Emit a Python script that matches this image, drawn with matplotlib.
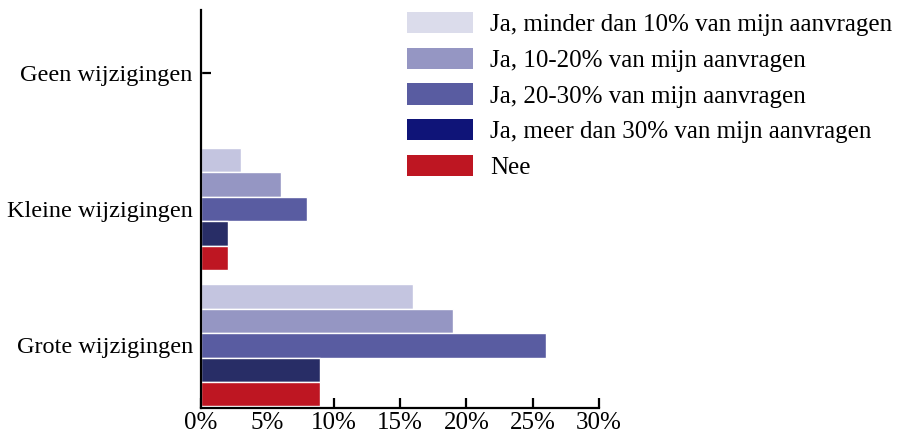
import matplotlib
matplotlib.use('Agg')
import matplotlib.pyplot as plt
from matplotlib.patches import Patch
import numpy as np

categories = ['Grote wijzigingen', 'Kleine wijzigingen', 'Geen wijzigingen']
series = ['Ja, minder dan 10% van mijn aanvragen',
          'Ja, 10-20% van mijn aanvragen',
          'Ja, 20-30% van mijn aanvragen',
          'Ja, meer dan 30% van mijn aanvragen',
          'Nee']
# values per series, in the order of categories (Grote, Kleine, Geen)
minder_10 = [16, 3, 0]
tien_20 = [19, 6, 0]
twintig_30 = [26, 8, 0]
meer_30 = [9, 2, 0]
nee = [9, 2, 0]
values = [minder_10, tien_20, twintig_30, meer_30, nee]

bar_colors = ['#c4c5e0', '#9596c3', '#595ca1', '#282d66', '#be1622']
legend_colors = ['#dbdceb', '#9596c3', '#595ca1', '#0f1478', '#be1622']

plt.rcParams['font.family'] = ['Liberation Serif', 'DejaVu Serif']

fig = plt.figure(figsize=(8.98, 4.37), dpi=100)
ax = fig.add_axes([0.224, 0.066, 0.443, 0.911])
ax.set_axisbelow(True)

y = np.arange(len(categories))
h = 0.179
for i, vals in enumerate(values):
    offset = (2 - i) * h
    ax.barh(y + offset, vals, height=h, color=bar_colors[i],
            edgecolor='white', linewidth=1.0)

ax.set_xlim(0, 30)
ax.set_ylim(-0.46, 2.46)
ax.set_xticks(range(0, 31, 5))
ax.set_xticklabels([f'{t}%' for t in range(0, 31, 5)], fontsize=18)
ax.set_yticks(y)
ax.set_yticklabels(categories, fontsize=17.5)

for s in ['top', 'right']:
    ax.spines[s].set_visible(False)
for s in ['left', 'bottom']:
    ax.spines[s].set_linewidth(1.6)
ax.tick_params(axis='both', direction='in', length=7, width=1.6,
               colors='black')
ax.tick_params(axis='x', pad=3)
ax.tick_params(axis='y', pad=6)

handles = [Patch(facecolor=c, edgecolor='none') for c in legend_colors]
fig.legend(handles, series, loc='upper left', bbox_to_anchor=(0.442, 0.995),
           frameon=False, fontsize=18, handlelength=2.64, handleheight=0.92,
           labelspacing=0.46, handletextpad=0.68, borderaxespad=0)

fig.savefig('out.png', dpi=100)
